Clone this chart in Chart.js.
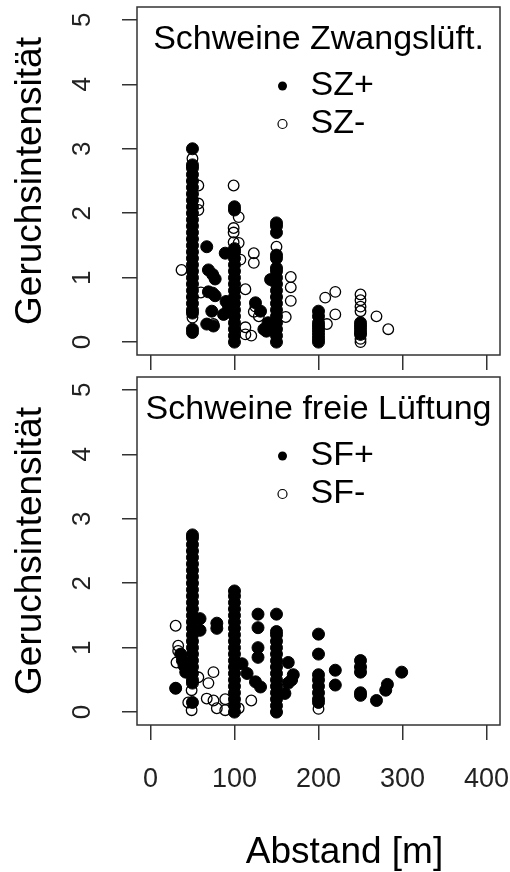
<!DOCTYPE html>
<html>
<head>
<meta charset="utf-8">
<script src="https://cdn.jsdelivr.net/npm/chart.js@4.4.1/dist/chart.umd.min.js"></script>
<style>
  html, body { margin: 0; padding: 0; background: #fff; }
  #wrap { position: relative; width: 510px; height: 872px; }
  canvas { position: absolute; left: 0; }
  #c1 { top: 0; }
  #c2 { top: 370px; }
</style>
</head>
<body>
<div id="wrap">
  <canvas id="c1" width="510" height="370"></canvas>
  <canvas id="c2" width="510" height="502"></canvas>
</div>
<script>
// Achsen
const xTicks = [0, 100, 200, 300, 400];
const yTicks = [0, 1, 2, 3, 4, 5];
const xRange = [-16, 416];
const yRange = [-0.2, 5.2];

// Schweine Zwangslüftung: [Abstand, Geruchsintensität]
const szPlus = [
  [50, 3.0], [50, 2.75], [50, 2.7], [50, 2.6], [50, 2.5], [50, 2.4], [50, 2.3], [50, 2.2], [50, 2.1],
  [50, 2.0], [50, 1.9], [50, 1.8], [50, 1.7], [50, 1.6], [50, 1.5], [50, 1.4], [50, 1.3], [50, 1.2],
  [50, 1.1], [50, 1.0], [50, 0.9], [50, 0.8], [50, 0.7], [50, 0.6], [50, 0.5], [50, 0.45], [50, 0.2], [50, 0.15],
  [67, 1.48], [69, 1.12], [74, 1.05], [77, 0.98], [69, 0.78], [74, 0.76], [77, 0.72], [73, 0.48], [67, 0.28], [75, 0.25],
  [100, 2.1], [100, 2.05], [100, 1.45], [100, 1.4], [100, 1.3], [100, 1.2], [100, 1.1], [100, 1.0], [100, 0.9],
  [100, 0.8], [100, 0.7], [100, 0.6], [100, 0.5], [100, 0.4], [100, 0.3], [100, 0.2], [100, 0.1], [100, 0.0],
  [89, 1.38], [90, 0.63], [87, 0.43], [93, 0.55], [125, 0.61], [131, 0.48], [135, 0.2], [140, 0.3], [138, 0.17],
  [150, 1.85], [150, 1.8], [150, 1.7], [150, 1.35], [150, 1.3], [150, 1.15], [150, 1.1], [150, 1.0], [150, 0.9],
  [150, 0.8], [150, 0.7], [150, 0.6], [150, 0.5], [150, 0.4], [150, 0.3], [150, 0.2], [150, 0.1], [150, 0.0],
  [143, 0.97],
  [200, 0.48], [200, 0.4], [200, 0.3], [200, 0.25], [200, 0.2], [200, 0.15], [200, 0.1], [200, 0.05], [200, 0.0],
  [250, 0.3], [250, 0.25], [250, 0.2], [250, 0.15], [250, 0.12]
];
const szMinus = [
  [37, 1.12], [50, 2.85], [57, 2.43], [57, 2.15], [57, 2.05], [60, 0.77], [50, 0.38], [75, 0.28],
  [99, 2.43], [105, 1.94], [99, 1.77], [99, 1.7], [99, 1.55], [105, 1.54], [107, 1.28], [113, 0.82],
  [123, 1.38], [123, 1.23], [125, 0.55], [123, 0.47], [113, 0.23], [120, 0.1], [113, 0.12], [129, 0.4],
  [150, 1.48], [167, 1.01], [167, 0.85], [167, 0.64], [161, 0.39],
  [220, 0.78], [208, 0.69], [220, 0.43], [210, 0.28],
  [250, 0.74], [250, 0.65], [250, 0.55], [250, 0.48], [250, 0.05], [250, 0.0], [269, 0.4], [283, 0.2]
];

// Schweine freie Lüftung
const sfPlus = [
  [50, 2.75], [50, 2.7], [50, 2.6], [50, 2.5], [50, 2.4], [50, 2.3], [50, 2.2], [50, 2.1], [50, 2.0],
  [50, 1.9], [50, 1.8], [50, 1.7], [50, 1.6], [50, 1.5], [50, 1.4], [50, 1.3], [50, 1.2], [50, 1.1],
  [50, 1.0], [50, 0.9], [50, 0.8], [50, 0.7], [50, 0.6], [50, 0.5], [50, 0.45], [50, 0.15],
  [59, 1.45], [59, 1.27], [79, 1.38], [79, 1.3], [36, 0.9], [38, 0.8], [40, 0.72], [42, 0.62], [30, 0.37],
  [100, 1.88], [100, 1.8], [100, 1.7], [100, 1.6], [100, 1.5], [100, 1.4], [100, 1.3], [100, 1.2], [100, 1.1],
  [100, 1.0], [100, 0.9], [100, 0.8], [100, 0.7], [100, 0.6], [100, 0.5], [100, 0.4], [100, 0.3], [100, 0.2],
  [100, 0.1], [100, 0.0],
  [109, 0.75], [115, 0.6], [125, 0.47], [131, 0.39], [128, 1.52], [128, 1.31], [128, 1.0], [128, 0.85],
  [150, 1.52], [150, 1.25], [150, 1.2], [150, 1.1], [150, 1.0], [150, 0.9], [150, 0.8], [150, 0.7],
  [150, 0.6], [150, 0.5], [150, 0.4], [150, 0.3], [150, 0.2], [150, 0.1], [150, 0.0],
  [164, 0.77], [168, 0.5], [164, 0.45], [160, 0.29], [170, 0.58],
  [200, 1.21], [200, 0.9], [200, 0.58], [200, 0.5], [200, 0.4], [200, 0.3], [200, 0.2], [200, 0.15],
  [220, 0.65], [220, 0.42],
  [250, 0.8], [250, 0.7], [250, 0.62], [250, 0.3], [250, 0.26],
  [269, 0.18], [280, 0.34], [282, 0.43], [299, 0.62]
];
const sfMinus = [
  [30, 1.34], [33, 1.03], [33, 0.95], [31, 0.77], [30, 0.37], [49, 0.34], [57, 0.54], [75, 0.62],
  [69, 0.45], [67, 0.21], [75, 0.18], [45, 0.15], [49, 0.03], [79, 0.06], [89, 0.03], [89, 0.2],
  [105, 0.06], [120, 0.18], [150, 0.0], [200, 0.05]
];

const FONT = '"Liberation Sans", Arial, sans-serif';

const toPoints = arr => arr.map(p => ({ x: p[0], y: p[1] }));

// feste Skalengröße, keine Extra-Ränder durch die Beschriftung
function fixSize(s, w, h) {
  if (w !== null) s.width = w;
  if (h !== null) s.height = h;
  s.paddingTop = 0;
  s.paddingBottom = 0;
  s.paddingLeft = 0;
  s.paddingRight = 0;
}

// Rahmen, Legende im Plotbereich, x-Titel
const panelDecor = {
  id: 'panelDecor',
  afterDraw(chart, args, opts) {
    const { ctx, chartArea: a } = chart;
    const cx = (a.left + a.right) / 2;
    ctx.save();
    ctx.strokeStyle = '#333';
    ctx.lineWidth = 1.5;
    ctx.strokeRect(a.left, a.top, a.right - a.left, a.bottom - a.top);

    ctx.fillStyle = '#000';
    ctx.font = '34px ' + FONT;
    ctx.textAlign = 'center';
    ctx.textBaseline = 'middle';
    ctx.fillText(opts.legendTitle, cx, a.top + 33);
    ctx.textAlign = 'left';
    chart.data.datasets.forEach((ds, i) => {
      const y = a.top + 79 + i * 38;
      const mx = cx - 36;
      ctx.beginPath();
      ctx.arc(mx, y, 4.5, 0, Math.PI * 2);
      if (ds.filled) {
        ctx.fillStyle = '#000';
        ctx.fill();
      } else {
        ctx.strokeStyle = '#000';
        ctx.lineWidth = 1.2;
        ctx.stroke();
      }
      ctx.fillStyle = '#000';
      ctx.fillText(ds.label, mx + 28, y);
    });

    if (opts.xTitle) {
      ctx.font = '37px ' + FONT;
      ctx.textAlign = 'center';
      ctx.fillText(opts.xTitle, cx + 26, a.bottom + 128);
    }
    ctx.restore();
  }
};

function makePanel(id, plus, minus, labels, legendTitle, bottom) {
  return new Chart(document.getElementById(id), {
    type: 'scatter',
    data: {
      datasets: [
        {
          label: labels[0], filled: true, data: toPoints(plus),
          pointRadius: 6, borderWidth: 1,
          backgroundColor: '#000', borderColor: '#000'
        },
        {
          label: labels[1], filled: false, data: toPoints(minus),
          pointRadius: 5.3, borderWidth: 1.3,
          backgroundColor: 'rgba(0,0,0,0)', borderColor: '#000'
        }
      ]
    },
    options: {
      responsive: false,
      animation: false,
      events: [],
      layout: { padding: { left: 0, top: bottom ? 4 : 5, right: 10, bottom: 0 } },
      plugins: {
        legend: { display: false },
        tooltip: { enabled: false },
        panelDecor: { legendTitle: legendTitle, xTitle: bottom ? 'Abstand [m]' : null }
      },
      scales: {
        x: {
          type: 'linear', min: xRange[0], max: xRange[1],
          afterBuildTicks: s => { s.ticks = xTicks.map(v => ({ value: v })); },
          afterFit: s => fixSize(s, null, bottom ? 147 : 15),
          grid: { drawOnChartArea: false, drawTicks: true, tickLength: 15, color: '#333', lineWidth: 1.5 },
          border: { display: false },
          ticks: {
            display: bottom, minRotation: 0, maxRotation: 0, autoSkip: false,
            padding: 23, color: '#222', font: { family: FONT, size: 27 }
          }
        },
        y: {
          type: 'linear', min: yRange[0], max: yRange[1],
          afterBuildTicks: s => { s.ticks = yTicks.map(v => ({ value: v })); },
          afterFit: s => fixSize(s, 137, null),
          grid: { drawOnChartArea: false, drawTicks: true, tickLength: 15, color: '#333', lineWidth: 1.5 },
          border: { display: false },
          ticks: {
            minRotation: 90, maxRotation: 90, crossAlign: 'center',
            padding: 32, color: '#222', font: { family: FONT, size: 26 }
          },
          title: {
            display: true, text: 'Geruchsintensität', color: '#000',
            font: { family: FONT, size: 37 }, padding: { top: 9, bottom: 0 }
          }
        }
      }
    },
    plugins: [panelDecor]
  });
}

makePanel('c1', szPlus, szMinus, ['SZ+', 'SZ-'], 'Schweine Zwangslüft.', false);
makePanel('c2', sfPlus, sfMinus, ['SF+', 'SF-'], 'Schweine freie Lüftung', true);
</script>
</body>
</html>
